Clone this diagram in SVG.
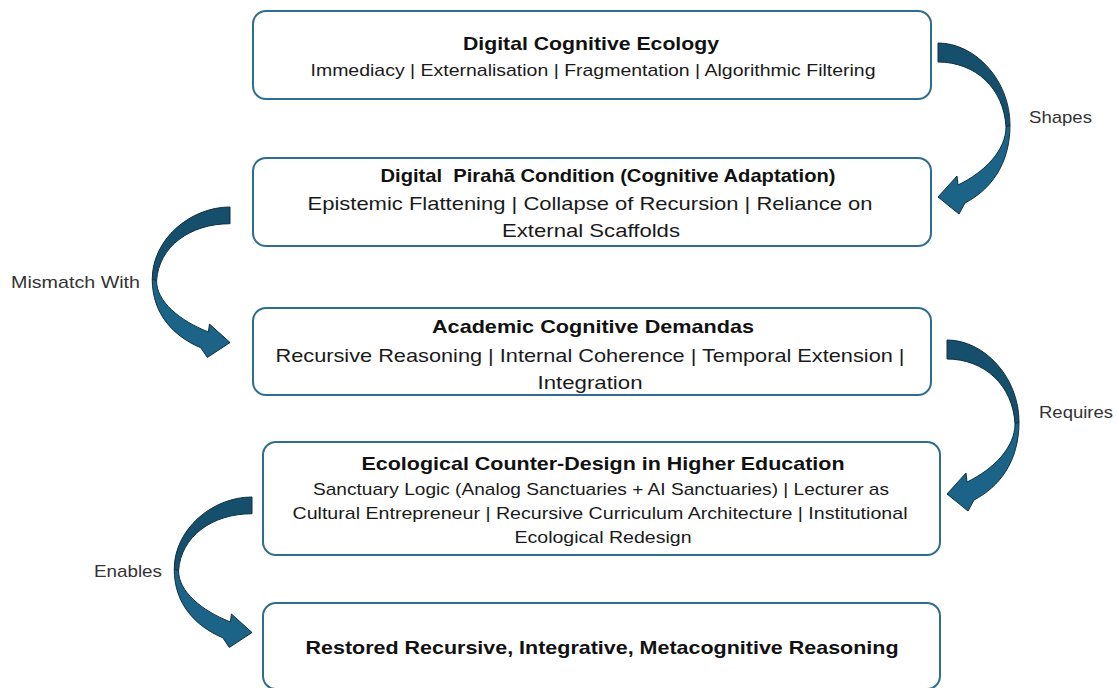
<svg xmlns="http://www.w3.org/2000/svg" width="1117" height="688" viewBox="0 0 1117 688">
<style>
.box{fill:#fff;stroke:#2D6E8E;stroke-width:2}
.t{font-family:"Liberation Sans",Arial,sans-serif;font-weight:bold;font-size:19px;fill:#111;text-anchor:middle}
.s{font-family:"Liberation Sans",Arial,sans-serif;font-size:19px;fill:#1a1a1a;text-anchor:middle}
.s2{font-family:"Liberation Sans",Arial,sans-serif;font-size:17px;fill:#1a1a1a;text-anchor:middle}
.lbl{font-family:"Liberation Sans",Arial,sans-serif;font-size:17px;fill:#333}
.bt{fill:#164F6C;stroke:#0E3142;stroke-width:1;vector-effect:non-scaling-stroke}
.bb{fill:#1C6388;stroke:#0E3142;stroke-width:1;vector-effect:non-scaling-stroke}
</style>
<defs>
<g id="carrow">
<path class="bt" d="M0,0 C37,0 72,37 72,82 L68,84 C66,45 37,19 0,19 Z"/>
<path class="bb" d="M72,82 C72,122 52,147 27,160 L21,171 L0,154 L19,133 L20,142 C47,129 68,107 68,84 Z"/>
</g>
</defs>
<g id="connectors">
<use href="#carrow" transform="translate(938,43)"/>
<use href="#carrow" transform="translate(947,340)"/>
<use href="#carrow" transform="translate(230,207) scale(-1.08,0.88)"/>
<use href="#carrow" transform="translate(252,497) scale(-1.08,0.88)"/>
<text class="lbl" x="1029" y="123" textLength="63" lengthAdjust="spacingAndGlyphs">Shapes</text>
<text class="lbl" x="11" y="288" textLength="129" lengthAdjust="spacingAndGlyphs">Mismatch With</text>
<text class="lbl" x="1039" y="418" textLength="74" lengthAdjust="spacingAndGlyphs">Requires</text>
<text class="lbl" x="94" y="577" textLength="68" lengthAdjust="spacingAndGlyphs">Enables</text>
</g>
<g id="node1">
<rect class="box" x="253" y="11" width="678" height="88" rx="13"/>
<text class="t" x="591" y="50" textLength="256" lengthAdjust="spacingAndGlyphs">Digital Cognitive Ecology</text>
<text class="s2" x="593" y="76" textLength="565" lengthAdjust="spacingAndGlyphs">Immediacy | Externalisation | Fragmentation | Algorithmic Filtering</text>
</g>
<g id="node2">
<rect class="box" x="253" y="158" width="678" height="88" rx="13"/>
<text class="t" x="608" y="182" textLength="455" lengthAdjust="spacingAndGlyphs" xml:space="preserve" style="white-space:pre">Digital  Pirahã Condition (Cognitive Adaptation)</text>
<text class="s" x="590" y="210" textLength="565" lengthAdjust="spacingAndGlyphs">Epistemic Flattening | Collapse of Recursion | Reliance on</text>
<text class="s" x="591" y="237" textLength="178" lengthAdjust="spacingAndGlyphs">External Scaffolds</text>
</g>
<g id="node3">
<rect class="box" x="253" y="308" width="678" height="87" rx="13"/>
<text class="t" x="593" y="333" textLength="322" lengthAdjust="spacingAndGlyphs">Academic Cognitive Demandas</text>
<text class="s" x="590" y="362" textLength="629" lengthAdjust="spacingAndGlyphs">Recursive Reasoning | Internal Coherence | Temporal Extension |</text>
<text class="s" x="590" y="389" textLength="105" lengthAdjust="spacingAndGlyphs">Integration</text>
</g>
<g id="node4">
<rect class="box" x="263" y="442" width="677" height="113" rx="13"/>
<text class="t" x="603" y="470" textLength="483" lengthAdjust="spacingAndGlyphs">Ecological Counter-Design in Higher Education</text>
<text class="s2" x="601" y="495" textLength="576" lengthAdjust="spacingAndGlyphs">Sanctuary Logic (Analog Sanctuaries + AI Sanctuaries) | Lecturer as</text>
<text class="s2" x="600" y="519" textLength="615" lengthAdjust="spacingAndGlyphs">Cultural Entrepreneur | Recursive Curriculum Architecture | Institutional</text>
<text class="s2" x="603" y="543" textLength="177" lengthAdjust="spacingAndGlyphs">Ecological Redesign</text>
</g>
<g id="node5">
<rect class="box" x="263" y="603" width="677" height="86" rx="13"/>
<text class="t" x="602" y="654" textLength="593" lengthAdjust="spacingAndGlyphs">Restored Recursive, Integrative, Metacognitive Reasoning</text>
</g>
</svg>
